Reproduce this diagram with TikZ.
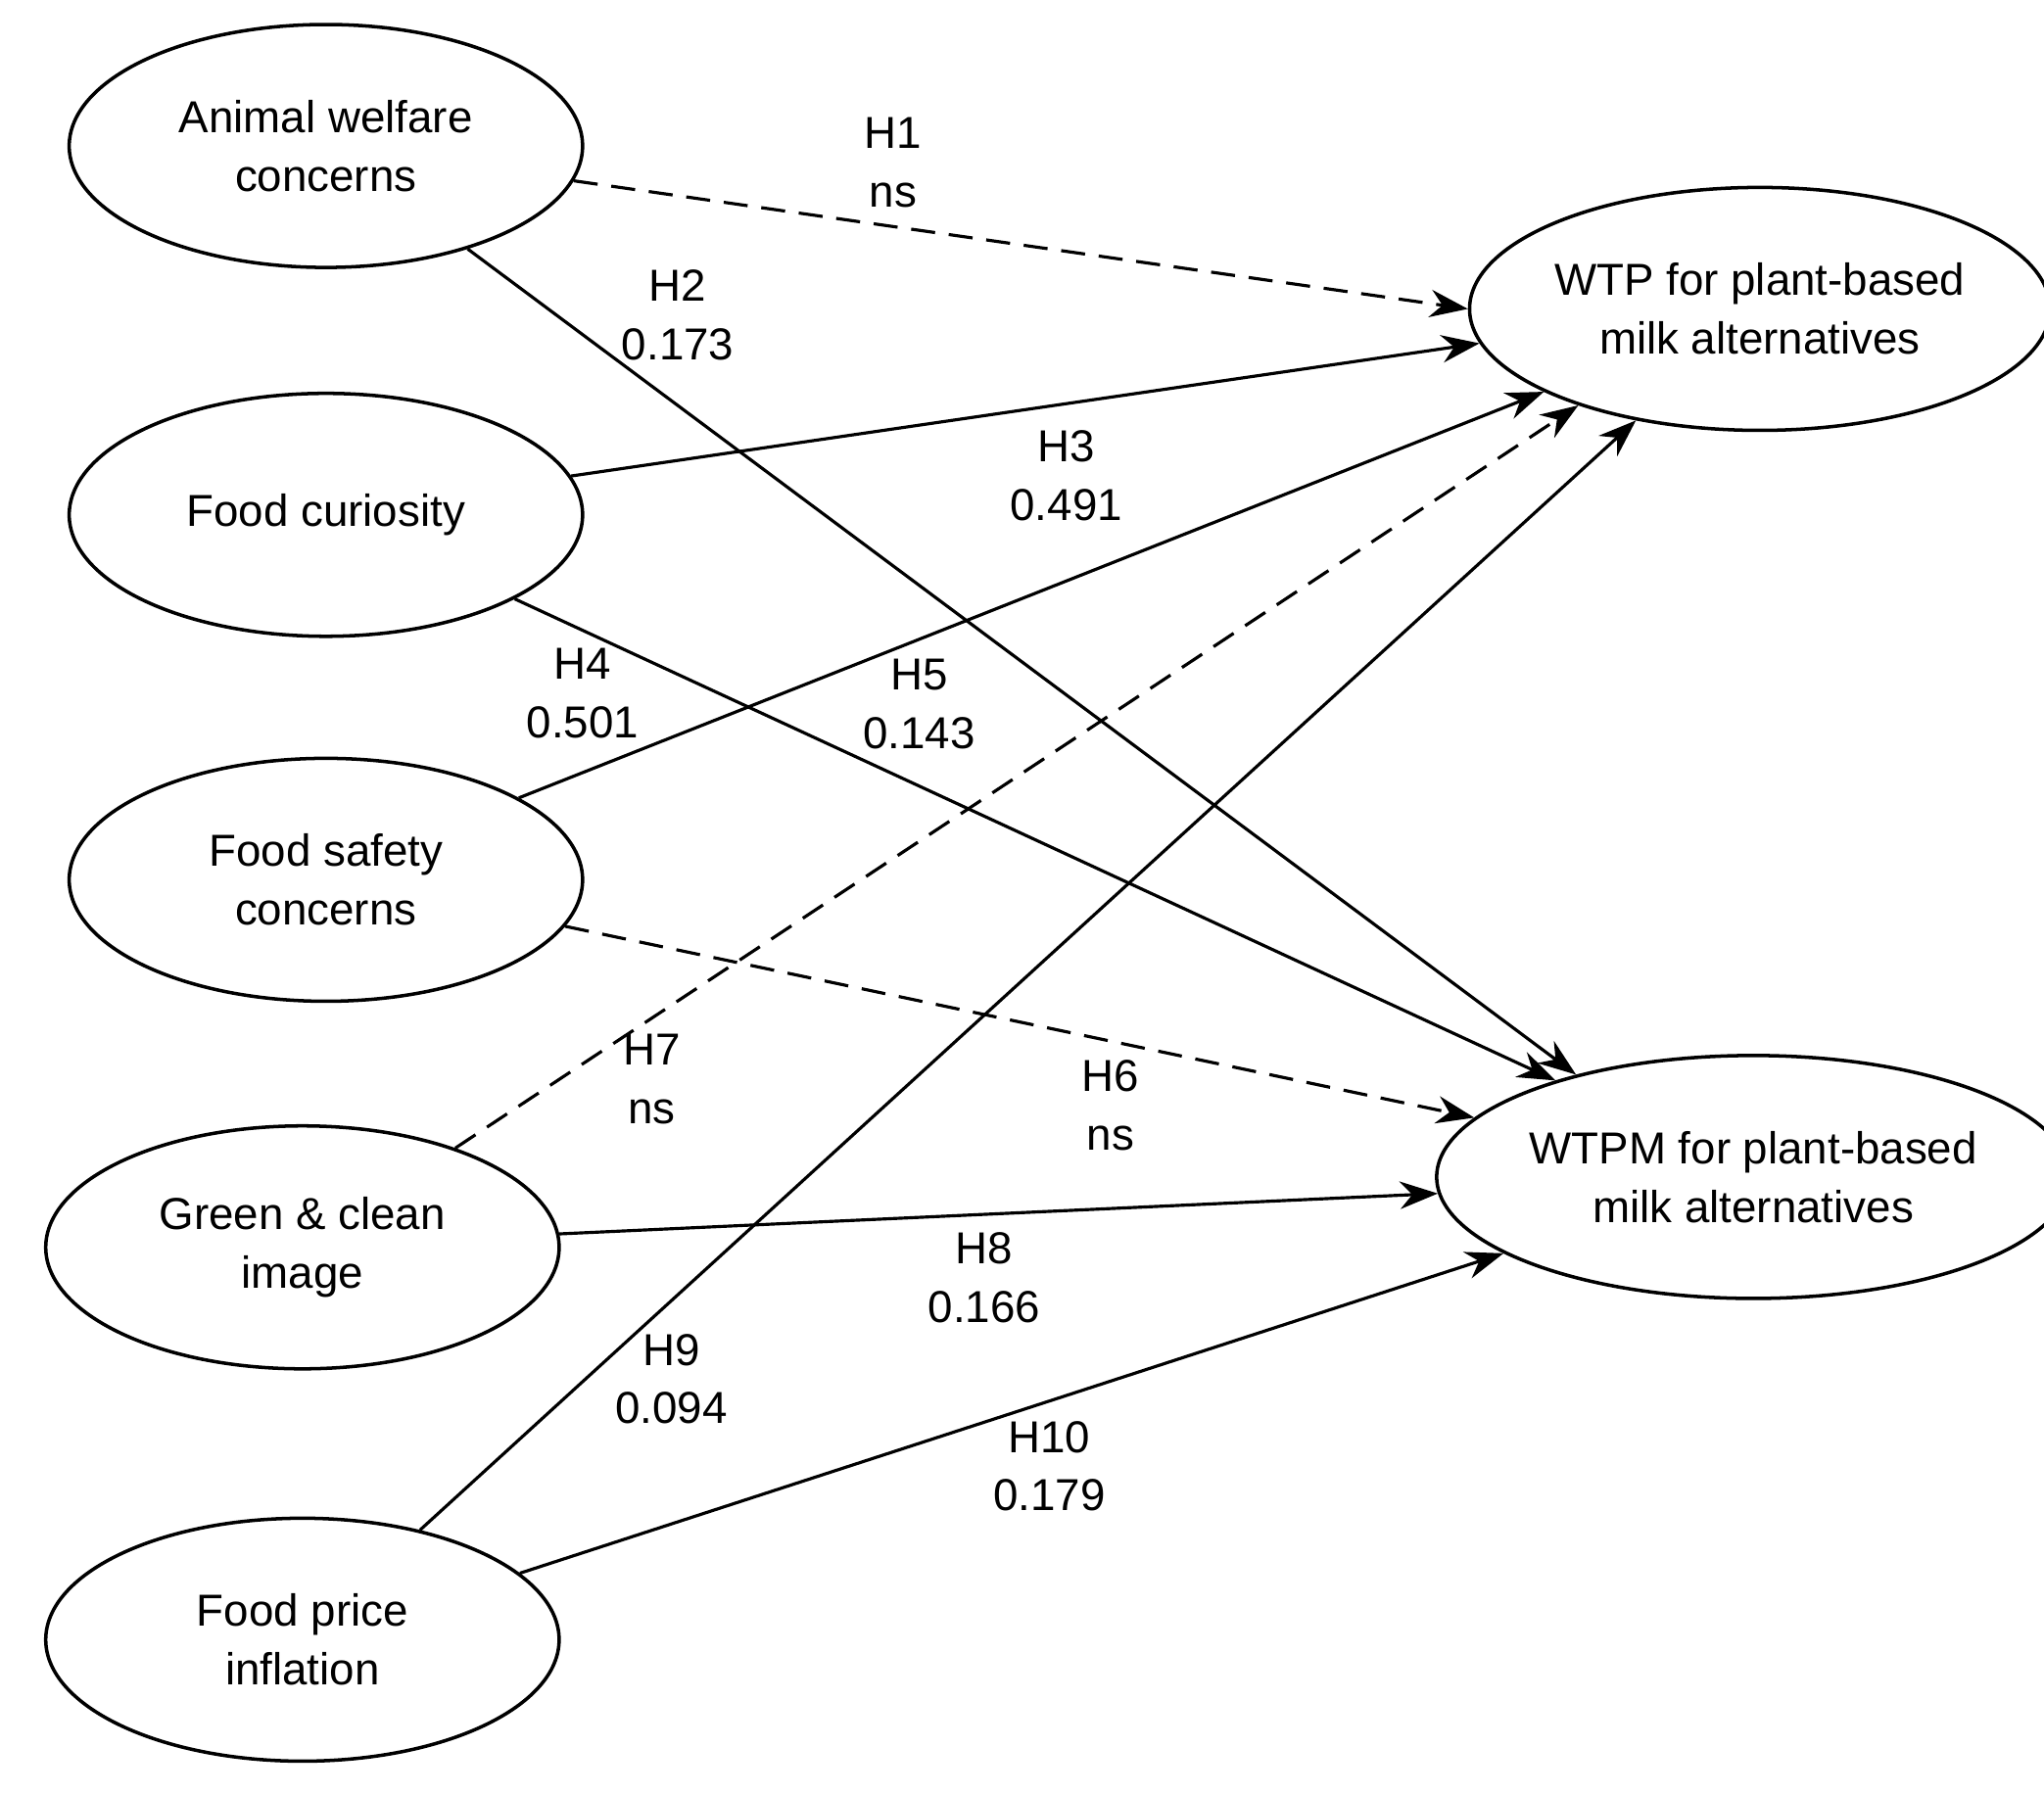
\documentclass[tikz,border=0pt]{standalone}
\usepackage{fontspec}
\setmainfont{Liberation Sans}
\usetikzlibrary{shapes.geometric,arrows.meta}
\begin{document}
\begin{tikzpicture}[x=0.01331cm,y=-0.01331cm,
  lat/.style={draw,ellipse,line width=1pt,minimum width=5.24cm,minimum height=2.48cm,inner sep=0pt,align=center,font=\fontsize{13}{17}\selectfont},
  lbl/.style={align=center,font=\fontsize{13}{17}\selectfont},
  arr/.style={line width=0.9pt,-{Stealth[length=11pt,width=8pt]}},
  dsh/.style={arr,dash pattern=on 7pt off 4pt}]
\useasboundingbox (0,0) rectangle (1568,1377);
\node[lat] (aw) at (250,112) {Animal welfare\\concerns};
\node[lat] (fc) at (250,395) {Food curiosity};
\node[lat] (fs) at (250,675) {Food safety\\concerns};
\node[lat] (gc) at (232,957) {Green \& clean\\image};
\node[lat] (fp) at (232,1258) {Food price\\inflation};
\node[lat] (wtp) at (1350,237) {WTP for plant-based\\milk alternatives};
\node[lat] (wtpm) at (1345,903) {WTPM for plant-based\\milk alternatives};
\draw[dsh] (aw.-8) -- (wtp.180);
\draw[arr] (aw.-36) -- (wtpm.150);
\draw[arr] (fc.9) -- (wtp.187);
\draw[arr] (fc.-24) -- (wtpm.154);
\draw[arr] (fs.23) -- (wtp.201);
\draw[dsh] (fs.-11) -- (wtpm.168);
\draw[dsh] (gc.33) -- (wtp.208);
\draw[arr] (gc.3) -- (wtpm.183);
\draw[arr] (fp.43) -- (wtp.222);
\draw[arr] (fp.17) -- (wtpm.197);
\node[lbl] (l1) at (685,125) {H1\\ns};
\node[lbl] (l2) at (520,242) {H2\\0.173};
\node[lbl] (l3) at (818,365) {H3\\0.491};
\node[lbl] (l4) at (447,532) {H4\\0.501};
\node[lbl] (l5) at (705,540) {H5\\0.143};
\node[lbl] (l6) at (852,848) {H6\\ns};
\node[lbl] (l7) at (500,828) {H7\\ns};
\node[lbl] (l8) at (755,980) {H8\\0.166};
\node[lbl] (l9) at (515,1058) {H9\\0.094};
\node[lbl] (l10) at (805,1125) {H10\\0.179};
\end{tikzpicture}
\end{document}
